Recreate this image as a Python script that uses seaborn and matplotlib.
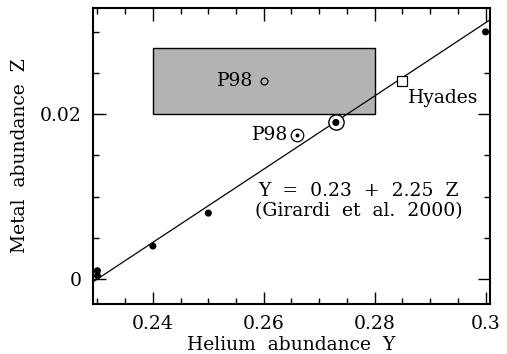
import matplotlib
matplotlib.use("Agg")
import matplotlib.pyplot as plt
from matplotlib.patches import Rectangle
from matplotlib.ticker import MultipleLocator, FixedFormatter, FixedLocator
import numpy as np
import pandas as pd
import seaborn as sns

# Model grid points (Y, Z)
grid_Y = [0.23, 0.23, 0.24, 0.25, 0.273, 0.30]
grid_Z = [0.0004, 0.001, 0.004, 0.008, 0.019, 0.030]

# Pagel & Portinari 1998 estimates and the Hyades
p98_box_Y = [0.24, 0.28]
p98_box_Z = [0.020, 0.028]
p98_Y, p98_Z = 0.26, 0.024
p98_sun_Y, p98_sun_Z = 0.266, 0.0175
sun_Y, sun_Z = 0.273, 0.019
hyades_Y, hyades_Z = 0.285, 0.024

# Enrichment law Y = Y0 + dY/dZ * Z
Y0, dYdZ = 0.23, 2.25
law_Y = [0.229, 0.301]

x_ticks = [0.24, 0.26, 0.28, 0.30]
x_tick_labels = ["0.24", "0.26", "0.28", "0.3"]
y_ticks = [0.0, 0.02]
y_tick_labels = ["0", "0.02"]

sns.set_theme(style="ticks")
plt.rcParams["font.family"] = ["DejaVu Serif"]
plt.rcParams["text.color"] = "black"
plt.rcParams["axes.labelcolor"] = "black"

fig = plt.figure(figsize=(5.07, 3.54), dpi=100)
ax = fig.add_axes([0.1834, 0.1412, 0.7831, 0.8362])

ax.add_patch(Rectangle((p98_box_Y[0], p98_box_Z[0]),
                       p98_box_Y[1] - p98_box_Y[0], p98_box_Z[1] - p98_box_Z[0],
                       facecolor="#b3b3b3", edgecolor="black", linewidth=1.0, zorder=1))

law = pd.DataFrame({"Y": law_Y})
law["Z"] = (law["Y"] - Y0) / dYdZ
sns.lineplot(data=law, x="Y", y="Z", color="black", linewidth=0.9, ax=ax, zorder=2)

grid = pd.DataFrame({"Y": grid_Y, "Z": grid_Z})
sns.scatterplot(data=grid, x="Y", y="Z", color="black", s=26, edgecolor="none",
                ax=ax, zorder=4)

# Ring around the solar-calibrated point
ax.plot([sun_Y], [sun_Z], marker="o", markersize=11, markerfacecolor="white",
        markeredgecolor="black", markeredgewidth=1.0, zorder=3, linestyle="none")

# P98 point (open circle)
ax.plot([p98_Y], [p98_Z], marker="o", markersize=5, markerfacecolor="none",
        markeredgecolor="black", markeredgewidth=0.9, zorder=4, linestyle="none")

# P98 solar-type symbol
ax.plot([p98_sun_Y], [p98_sun_Z], marker="o", markersize=9, markerfacecolor="white",
        markeredgecolor="black", markeredgewidth=0.9, zorder=4, linestyle="none")
ax.plot([p98_sun_Y], [p98_sun_Z], marker="o", markersize=1.8, color="black",
        zorder=5, linestyle="none")

# Hyades
ax.plot([hyades_Y], [hyades_Z], marker="s", markersize=7, markerfacecolor="white",
        markeredgecolor="black", markeredgewidth=0.9, zorder=4, linestyle="none")

fs = 13.5
ax.text(p98_Y - 0.0018, p98_Z, "P98", ha="right", va="center", fontsize=fs)
ax.text(p98_sun_Y - 0.0016, p98_sun_Z, "P98", ha="right", va="center", fontsize=fs)
ax.text(hyades_Y + 0.0010, hyades_Z - 0.0009, "Hyades", ha="left", va="top", fontsize=fs)
ax.text(0.2770, 0.0107, "Y  =  0.23  +  2.25  Z", ha="center", va="center", fontsize=fs)
ax.text(0.2772, 0.0083, "(Girardi  et  al.  2000)", ha="center", va="center", fontsize=fs)

ax.set_xlim(0.2292, 0.3008)
ax.set_ylim(-0.00304, 0.0329)

ax.xaxis.set_major_locator(FixedLocator(x_ticks))
ax.xaxis.set_major_formatter(FixedFormatter(x_tick_labels))
ax.yaxis.set_major_locator(FixedLocator(y_ticks))
ax.yaxis.set_major_formatter(FixedFormatter(y_tick_labels))
ax.xaxis.set_minor_locator(MultipleLocator(0.005))
ax.yaxis.set_minor_locator(MultipleLocator(0.005))

ax.tick_params(which="both", direction="in", top=True, right=True, width=1.0,
               colors="black", labelsize=fs)
ax.tick_params(which="major", length=9, pad=8)
ax.tick_params(which="minor", length=4.5)
for sp in ax.spines.values():
    sp.set_visible(True)
    sp.set_linewidth(1.5)
    sp.set_color("black")

ax.set_xlabel("Helium  abundance  Y", fontsize=fs, labelpad=2)
ax.set_ylabel("Metal  abundance  Z", fontsize=fs, labelpad=8)

fig.savefig("out.png", dpi=100)
